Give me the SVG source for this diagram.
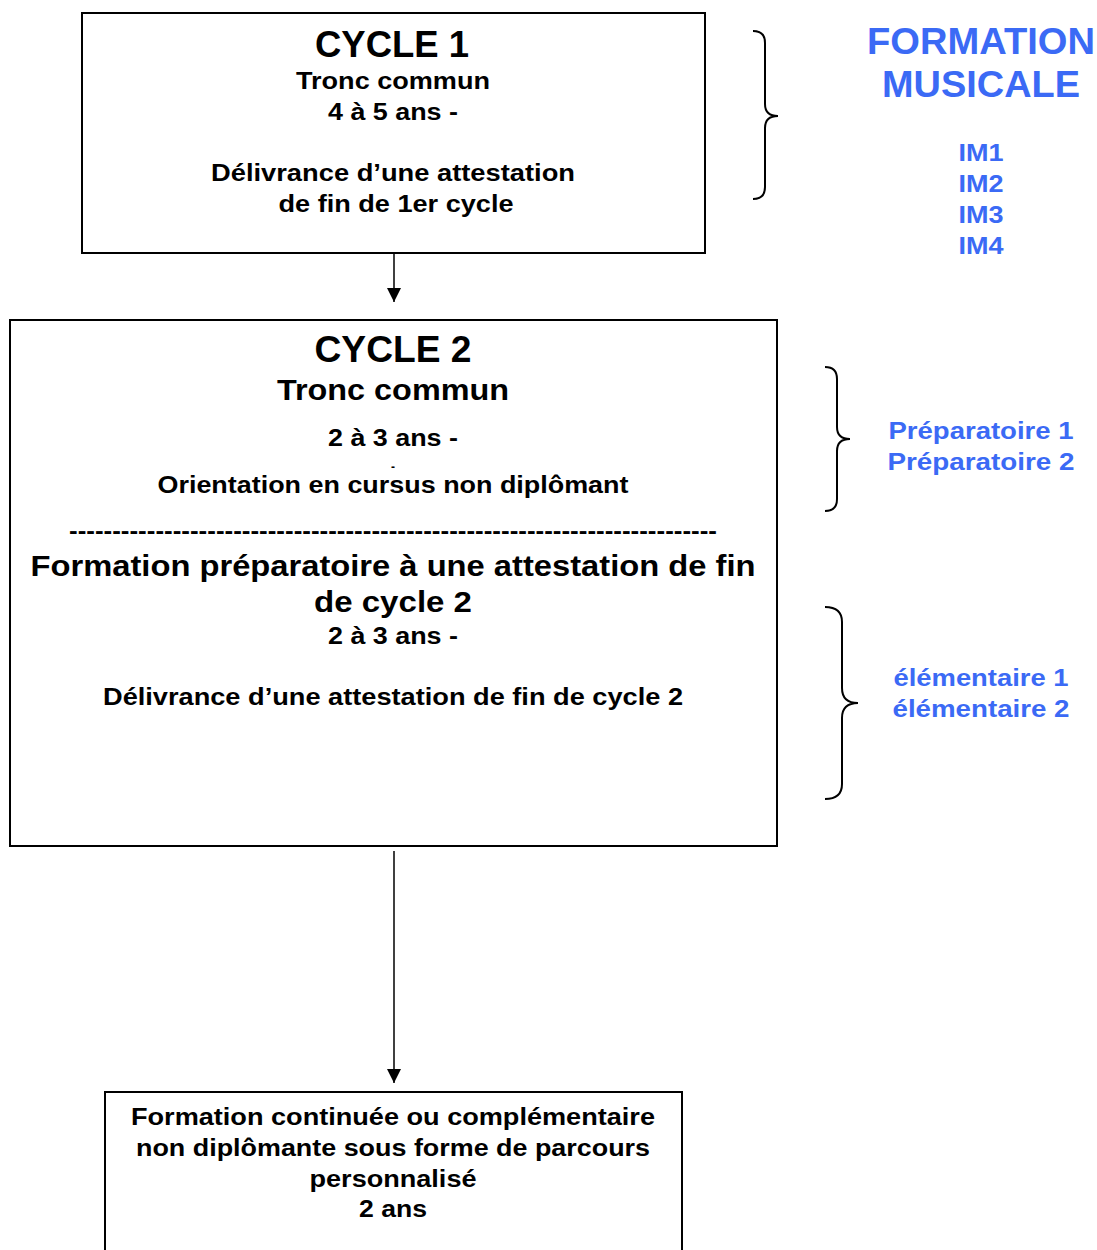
<svg xmlns="http://www.w3.org/2000/svg" width="1097" height="1250" viewBox="0 0 1097 1250">
<defs>
<style>
.box{fill:#fff;stroke:#000;stroke-width:2}
.t{font-family:"Liberation Sans",Arial,sans-serif;font-weight:bold;fill:#000;text-anchor:middle}
.b{font-family:"Liberation Sans",Arial,sans-serif;font-weight:bold;fill:#3b6af5;text-anchor:middle}
.br{fill:none;stroke:#000;stroke-width:2}
.ln{stroke:#000;stroke-width:1.5;fill:none}
</style>
<marker id="ah" markerWidth="14" markerHeight="14" refX="10" refY="5" orient="auto" markerUnits="userSpaceOnUse" viewBox="0 0 10 10">
<path d="M0,0 L10,5 L0,10 Z" fill="#000"/>
</marker>
</defs>
<rect width="1097" height="1250" fill="#fff"/>

<g id="connectors">
<line class="ln" x1="394" y1="253" x2="394" y2="302" marker-end="url(#ah)"/>
<line class="ln" x1="394" y1="851" x2="394" y2="1083" marker-end="url(#ah)"/>
</g>

<g id="cycle1">
<rect class="box" x="82" y="13" width="623" height="240"/>
<text class="t" x="392" y="57" font-size="36" textLength="154" lengthAdjust="spacingAndGlyphs">CYCLE 1</text>
<text class="t" x="393" y="89" font-size="23" textLength="194" lengthAdjust="spacingAndGlyphs">Tronc commun</text>
<text class="t" x="393" y="120" font-size="23" textLength="130" lengthAdjust="spacingAndGlyphs">4 à 5 ans -</text>
<text class="t" x="393" y="181" font-size="23" textLength="364" lengthAdjust="spacingAndGlyphs">Délivrance d’une attestation</text>
<text class="t" x="396" y="212" font-size="23" textLength="235" lengthAdjust="spacingAndGlyphs">de fin de 1er cycle</text>
</g>

<g id="cycle2">
<rect class="box" x="10" y="320" width="767" height="526"/>
<text class="t" x="393" y="362" font-size="36" textLength="157" lengthAdjust="spacingAndGlyphs">CYCLE 2</text>
<text class="t" x="393" y="400" font-size="30" textLength="232" lengthAdjust="spacingAndGlyphs">Tronc commun</text>
<text class="t" x="393" y="446" font-size="23" textLength="130" lengthAdjust="spacingAndGlyphs">2 à 3 ans -</text>
<text class="t" x="393" y="471" font-size="12">-</text>
<text class="t" x="393" y="493" font-size="23" textLength="471" lengthAdjust="spacingAndGlyphs">Orientation en cursus non diplômant</text>
<text class="t" x="393" y="539" font-size="23" textLength="648" lengthAdjust="spacingAndGlyphs">---------------------------------------------------------------------------</text>
<text class="t" x="393" y="576" font-size="30" textLength="725" lengthAdjust="spacingAndGlyphs">Formation préparatoire à une attestation de fin</text>
<text class="t" x="393" y="612" font-size="30" textLength="158" lengthAdjust="spacingAndGlyphs">de cycle 2</text>
<text class="t" x="393" y="644" font-size="23" textLength="130" lengthAdjust="spacingAndGlyphs">2 à 3 ans -</text>
<text class="t" x="393" y="705" font-size="23" textLength="580" lengthAdjust="spacingAndGlyphs">Délivrance d’une attestation de fin de cycle 2</text>
</g>

<g id="formation-continuee">
<rect class="box" x="105" y="1092" width="577" height="170"/>
<text class="t" x="393" y="1125" font-size="23" textLength="524" lengthAdjust="spacingAndGlyphs">Formation continuée ou complémentaire</text>
<text class="t" x="393" y="1156" font-size="23" textLength="514" lengthAdjust="spacingAndGlyphs">non diplômante sous forme de parcours</text>
<text class="t" x="393" y="1187" font-size="23" textLength="167" lengthAdjust="spacingAndGlyphs">personnalisé</text>
<text class="t" x="393" y="1217" font-size="23" textLength="68" lengthAdjust="spacingAndGlyphs">2 ans</text>
</g>

<g id="brace1">
<path class="br" d="M753,31 Q765,31 765,43 L765,104 Q765,116 778,116 Q765,116 765,128 L765,187 Q765,199 753,199"/>
</g>
<g id="formation-musicale">
<text class="b" x="981" y="54" font-size="36" textLength="228" lengthAdjust="spacingAndGlyphs">FORMATION</text>
<text class="b" x="981" y="97" font-size="36" textLength="198" lengthAdjust="spacingAndGlyphs">MUSICALE</text>
<text class="b" x="981" y="161" font-size="23" textLength="45" lengthAdjust="spacingAndGlyphs">IM1</text>
<text class="b" x="981" y="192" font-size="23" textLength="45" lengthAdjust="spacingAndGlyphs">IM2</text>
<text class="b" x="981" y="223" font-size="23" textLength="45" lengthAdjust="spacingAndGlyphs">IM3</text>
<text class="b" x="981" y="254" font-size="23" textLength="45" lengthAdjust="spacingAndGlyphs">IM4</text>
</g>

<g id="brace2">
<path class="br" d="M825,367 Q837,367 837,379 L837,427 Q837,439 850,439 Q837,439 837,451 L837,499 Q837,511 825,511"/>
</g>
<g id="preparatoire">
<text class="b" x="981" y="439" font-size="23" textLength="185" lengthAdjust="spacingAndGlyphs">Préparatoire 1</text>
<text class="b" x="981" y="470" font-size="23" textLength="187" lengthAdjust="spacingAndGlyphs">Préparatoire 2</text>
</g>

<g id="brace3">
<path class="br" d="M825,607 Q842,607 842,622 L842,688 Q842,703 858,703 Q842,703 842,718 L842,784 Q842,799 825,799"/>
</g>
<g id="elementaire">
<text class="b" x="981" y="686" font-size="23" textLength="175" lengthAdjust="spacingAndGlyphs">élémentaire 1</text>
<text class="b" x="981" y="717" font-size="23" textLength="177" lengthAdjust="spacingAndGlyphs">élémentaire 2</text>
</g>
</svg>
